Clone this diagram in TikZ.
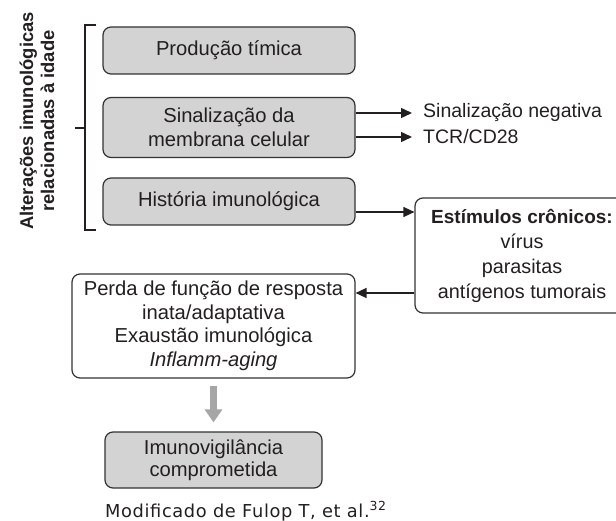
\documentclass[tikz,border=0pt]{standalone}
\usepackage{fontspec}
\setmainfont{Liberation Sans}
\newfontfamily\capfont[LetterSpace=3.5]{DejaVu Sans}
\usetikzlibrary{arrows.meta}
\definecolor{boxgray}{HTML}{D3D3D3}
\definecolor{edge}{HTML}{333333}
\definecolor{ink}{HTML}{231F20}
\definecolor{bigarrow}{HTML}{A6A6A6}
\tikzset{
  every node/.style={text=ink},
  graybox/.style={draw=edge, line width=1.2pt, fill=boxgray, rounded corners=8pt,
    align=center, inner sep=0pt, font=\fontsize{20.2}{24}\selectfont},
  whitebox/.style={draw=edge, line width=1.2pt, fill=white, rounded corners=8pt,
    align=center, inner sep=0pt, font=\fontsize{20.2}{23.5}\selectfont},
  sidetext/.style={anchor=west, inner xsep=11pt, inner ysep=0pt, font=\fontsize{19.5}{23}\selectfont},
  arr/.style={draw=ink, line width=1.5pt, -{Triangle[length=11pt,width=10pt]}},
  brack/.style={draw=ink, line width=1.8pt},
}
\begin{document}
\begin{tikzpicture}[x=1pt,y=-1pt]
\useasboundingbox (0,0) rectangle (616,521);

% rotated title
\node[rotate=90, align=center, font=\bfseries\fontsize{18.4}{21}\selectfont, inner sep=0pt] (title) at (37,121)
  {Alterações imunológicas\\relacionadas à idade};

% bracket
\coordinate (bt) at (85,25);
\coordinate (bb) at (85,230);
\coordinate (btr) at (96,25);
\coordinate (bbr) at (96,230);
\coordinate (bm) at (85,128);
\coordinate (bml) at (75,128);
\draw[brack] (btr) -- (bt) -- (bb) -- (bbr);
\draw[brack] (bm) -- (bml);

% left boxes
\node[graybox, minimum width=252pt, minimum height=47pt] (b1) at (229,50.5) {Produção tímica};
\node[graybox, minimum width=252pt, minimum height=60pt] (b2) at (229,127.5) {Sinalização da\\membrana celular};
\node[graybox, minimum width=252pt, minimum height=47pt] (b3) at (229,201.5) {História imunológica};

% side texts
\node[sidetext] (neg) at (412,113) {Sinalização negativa};
\node[sidetext] (tcr) at (412,137) {TCR/CD28};
\coordinate (s1) at ([yshift=14.5pt]b2.east);
\coordinate (s2) at ([yshift=-9.5pt]b2.east);
\draw[arr] (s1) -- (s1 -| neg.west);
\draw[arr] (s2) -- (s2 -| tcr.west);

% chronic stimuli box
\node[whitebox, minimum width=214pt, minimum height=115pt, font=\fontsize{19.8}{25}\selectfont] (est) at (522,255.5)
  {{\bfseries\fontsize{19}{25}\selectfont Estímulos crônicos:}\\vírus\\parasitas\\antígenos tumorais};
\coordinate (a3) at ([yshift=-10.5pt]b3.east);
\draw[arr] (a3) -- (a3 -| est.west);

% loss box
\node[whitebox, minimum width=283pt, minimum height=104pt] (perda) at (213.5,326)
  {Perda de função de resposta\\inata/adaptativa\\Exaustão imunológica\\\textit{Inflamm-aging}};
\coordinate (e1) at ([yshift=-37.5pt]est.west);
\draw[arr] (e1) -- (e1 -| perda.east);

% final box
\node[graybox, minimum width=217pt, minimum height=56pt, font=\fontsize{20.2}{22.5}\selectfont] (imuno) at (213.5,460)
  {Imunovigilância\\comprometida};

\draw[draw=bigarrow, line width=7pt, -{Triangle[length=13pt,width=17pt]}, shorten <=7pt, shorten >=9pt]
  (perda.south -| imuno.north) -- (imuno.north);

% caption
\node[anchor=base west, inner sep=0pt, font=\capfont\fontsize{17.8}{21}\selectfont] (cap) at (105,517)
  {Modificado de Fulop T, et al.\textsuperscript{32}};
\end{tikzpicture}
\end{document}
